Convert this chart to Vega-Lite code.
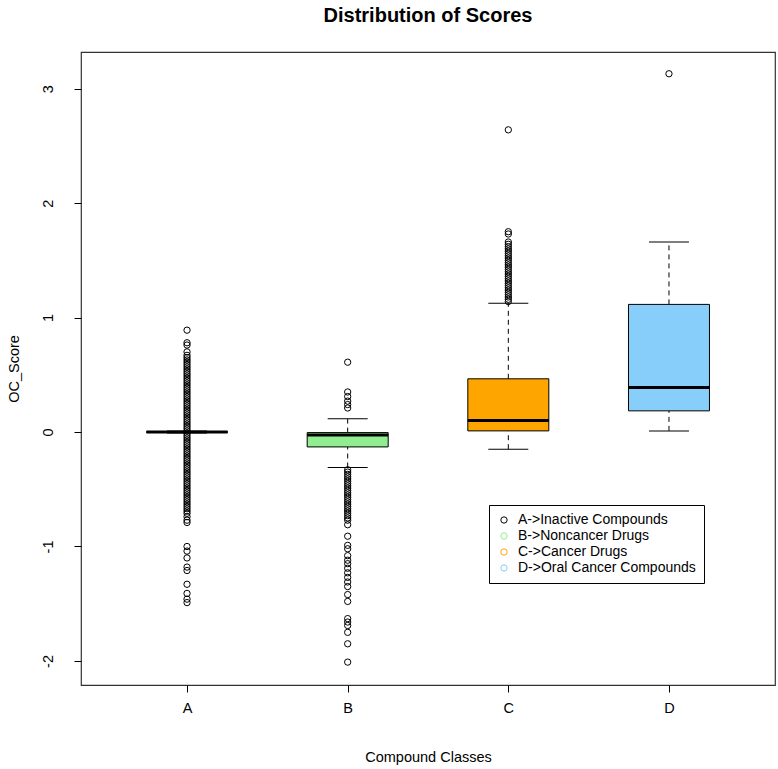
{
  "$schema": "https://vega.github.io/schema/vega-lite/v6.json",
  "width": 694,
  "height": 633,
  "autosize": "none",
  "padding": {"left": 81, "top": 52, "right": 3, "bottom": 84},
  "background": "white",
  "title": {"text": "Distribution of Scores", "fontSize": 20, "fontWeight": "bold", "font": "Liberation Sans", "anchor": "middle", "frame": "group", "offset": 26, "color": "black"},
  "config": {
    "view": {"stroke": "#333333", "strokeWidth": 1.2},
    "axis": {"grid": false, "domain": false, "tickColor": "black", "tickSize": 7, "labelFont": "Liberation Sans", "titleFont": "Liberation Sans", "labelFontSize": 14.5, "titleFontSize": 14.5, "labelColor": "black", "titleColor": "black", "titleFontWeight": "normal"}
  },
  "datasets": {
    "stats": [
      {"group": "A", "label": "A->Inactive Compounds", "lower": -0.008, "q1": -0.004, "median": 0, "q3": 0.004, "upper": 0.008},
      {"group": "B", "label": "B->Noncancer Drugs", "lower": -0.31, "q1": -0.13, "median": -0.025, "q3": -0.005, "upper": 0.115},
      {"group": "C", "label": "C->Cancer Drugs", "lower": -0.15, "q1": 0.01, "median": 0.1, "q3": 0.465, "upper": 1.125},
      {"group": "D", "label": "D->Oral Cancer Compounds", "lower": 0.01, "q1": 0.185, "median": 0.39, "q3": 1.115, "upper": 1.66}
    ],
    "outliers": [
      {"group": "A", "value": 0.89}, {"group": "A", "value": 0.78}, {"group": "A", "value": 0.76}, {"group": "A", "value": 0.70}, {"group": "A", "value": 0.67},
      {"group": "A", "value": 0.65}, {"group": "A", "value": 0.63}, {"group": "A", "value": 0.61}, {"group": "A", "value": 0.59}, {"group": "A", "value": 0.57},
      {"group": "A", "value": 0.55}, {"group": "A", "value": 0.53}, {"group": "A", "value": 0.51}, {"group": "A", "value": 0.49}, {"group": "A", "value": 0.47},
      {"group": "A", "value": 0.45}, {"group": "A", "value": 0.43}, {"group": "A", "value": 0.41}, {"group": "A", "value": 0.39}, {"group": "A", "value": 0.37},
      {"group": "A", "value": 0.35}, {"group": "A", "value": 0.33}, {"group": "A", "value": 0.31}, {"group": "A", "value": 0.29}, {"group": "A", "value": 0.27},
      {"group": "A", "value": 0.25}, {"group": "A", "value": 0.23}, {"group": "A", "value": 0.21}, {"group": "A", "value": 0.19}, {"group": "A", "value": 0.17},
      {"group": "A", "value": 0.15}, {"group": "A", "value": 0.13}, {"group": "A", "value": 0.11}, {"group": "A", "value": 0.09}, {"group": "A", "value": 0.07},
      {"group": "A", "value": 0.05}, {"group": "A", "value": 0.03}, {"group": "A", "value": 0.01}, {"group": "A", "value": -0.01}, {"group": "A", "value": -0.03},
      {"group": "A", "value": -0.05}, {"group": "A", "value": -0.07}, {"group": "A", "value": -0.09}, {"group": "A", "value": -0.11}, {"group": "A", "value": -0.13},
      {"group": "A", "value": -0.15}, {"group": "A", "value": -0.17}, {"group": "A", "value": -0.19}, {"group": "A", "value": -0.21}, {"group": "A", "value": -0.23},
      {"group": "A", "value": -0.25}, {"group": "A", "value": -0.27}, {"group": "A", "value": -0.29}, {"group": "A", "value": -0.31}, {"group": "A", "value": -0.33},
      {"group": "A", "value": -0.35}, {"group": "A", "value": -0.37}, {"group": "A", "value": -0.39}, {"group": "A", "value": -0.41}, {"group": "A", "value": -0.43},
      {"group": "A", "value": -0.45}, {"group": "A", "value": -0.47}, {"group": "A", "value": -0.49}, {"group": "A", "value": -0.51}, {"group": "A", "value": -0.53},
      {"group": "A", "value": -0.55}, {"group": "A", "value": -0.57}, {"group": "A", "value": -0.59}, {"group": "A", "value": -0.61}, {"group": "A", "value": -0.63},
      {"group": "A", "value": -0.65}, {"group": "A", "value": -0.67}, {"group": "A", "value": -0.69}, {"group": "A", "value": -0.71}, {"group": "A", "value": -0.74},
      {"group": "A", "value": -0.77}, {"group": "A", "value": -0.79}, {"group": "A", "value": -1.00}, {"group": "A", "value": -1.04}, {"group": "A", "value": -1.10},
      {"group": "A", "value": -1.18}, {"group": "A", "value": -1.21}, {"group": "A", "value": -1.33}, {"group": "A", "value": -1.41}, {"group": "A", "value": -1.46},
      {"group": "A", "value": -1.49},
      {"group": "B", "value": 0.61}, {"group": "B", "value": 0.35}, {"group": "B", "value": 0.31}, {"group": "B", "value": 0.27}, {"group": "B", "value": 0.24},
      {"group": "B", "value": 0.21}, {"group": "B", "value": -0.33}, {"group": "B", "value": -0.35}, {"group": "B", "value": -0.37}, {"group": "B", "value": -0.39},
      {"group": "B", "value": -0.41}, {"group": "B", "value": -0.43}, {"group": "B", "value": -0.45}, {"group": "B", "value": -0.47}, {"group": "B", "value": -0.49},
      {"group": "B", "value": -0.51}, {"group": "B", "value": -0.53}, {"group": "B", "value": -0.55}, {"group": "B", "value": -0.57}, {"group": "B", "value": -0.59},
      {"group": "B", "value": -0.61}, {"group": "B", "value": -0.63}, {"group": "B", "value": -0.65}, {"group": "B", "value": -0.67}, {"group": "B", "value": -0.69},
      {"group": "B", "value": -0.71}, {"group": "B", "value": -0.73}, {"group": "B", "value": -0.75}, {"group": "B", "value": -0.77}, {"group": "B", "value": -0.81},
      {"group": "B", "value": -0.91}, {"group": "B", "value": -0.99}, {"group": "B", "value": -1.02}, {"group": "B", "value": -1.08}, {"group": "B", "value": -1.12},
      {"group": "B", "value": -1.15}, {"group": "B", "value": -1.19}, {"group": "B", "value": -1.23}, {"group": "B", "value": -1.27}, {"group": "B", "value": -1.31},
      {"group": "B", "value": -1.35}, {"group": "B", "value": -1.42}, {"group": "B", "value": -1.48}, {"group": "B", "value": -1.63}, {"group": "B", "value": -1.66},
      {"group": "B", "value": -1.69}, {"group": "B", "value": -1.75}, {"group": "B", "value": -1.85}, {"group": "B", "value": -2.01},
      {"group": "C", "value": 2.64}, {"group": "C", "value": 1.75}, {"group": "C", "value": 1.73}, {"group": "C", "value": 1.66}, {"group": "C", "value": 1.64},
      {"group": "C", "value": 1.62}, {"group": "C", "value": 1.60}, {"group": "C", "value": 1.58}, {"group": "C", "value": 1.56}, {"group": "C", "value": 1.54},
      {"group": "C", "value": 1.52}, {"group": "C", "value": 1.50}, {"group": "C", "value": 1.48}, {"group": "C", "value": 1.46}, {"group": "C", "value": 1.44},
      {"group": "C", "value": 1.42}, {"group": "C", "value": 1.40}, {"group": "C", "value": 1.38}, {"group": "C", "value": 1.36}, {"group": "C", "value": 1.34},
      {"group": "C", "value": 1.32}, {"group": "C", "value": 1.30}, {"group": "C", "value": 1.28}, {"group": "C", "value": 1.26}, {"group": "C", "value": 1.24},
      {"group": "C", "value": 1.22}, {"group": "C", "value": 1.20}, {"group": "C", "value": 1.18}, {"group": "C", "value": 1.16}, {"group": "C", "value": 1.14},
      {"group": "D", "value": 3.13}
    ]
  },
  "encoding": {
    "x": {"field": "group", "type": "nominal", "scale": {"type": "point", "padding": 0.66, "domain": ["A", "B", "C", "D"]},
      "axis": {"title": "Compound Classes", "labelAngle": 0, "labelPadding": 9, "titleX": 347, "titleY": 72, "titleBaseline": "middle", "titleAlign": "center"}}
  },
  "layer": [
    {
      "data": {"name": "stats"},
      "mark": {"type": "rule", "color": "black", "strokeDash": [5, 4], "strokeWidth": 1},
      "encoding": {
        "y": {"field": "q3", "type": "quantitative", "scale": {"domain": [-2.21, 3.32], "nice": false, "zero": false},
          "axis": {"title": "OC_Score", "values": [-2, -1, 0, 1, 2, 3], "labelExpr": "'' + datum.value", "labelAngle": -90, "labelAlign": "center", "labelBaseline": "bottom", "labelPadding": 19, "titleX": -67, "titleY": 316.5, "titleAngle": -90, "titleBaseline": "middle", "titleAlign": "center"}},
        "y2": {"field": "upper"}
      }
    },
    {
      "data": {"name": "stats"},
      "mark": {"type": "rule", "color": "black", "strokeDash": [5, 4], "strokeWidth": 1},
      "encoding": {
        "y": {"field": "lower", "type": "quantitative"},
        "y2": {"field": "q1"}
      }
    },
    {
      "data": {"name": "stats"},
      "mark": {"type": "bar", "width": 81, "stroke": "black", "strokeWidth": 1},
      "encoding": {
        "y": {"field": "q1", "type": "quantitative"},
        "y2": {"field": "q3"},
        "fill": {"field": "group", "type": "nominal",
          "scale": {"domain": ["A", "B", "C", "D"], "range": ["#000000", "#90EE90", "#FFA500", "#87CEFA"]},
          "legend": null}
      }
    },
    {
      "data": {"name": "stats"},
      "mark": {"type": "tick", "orient": "horizontal", "size": 81, "thickness": 3, "color": "black", "opacity": 1},
      "encoding": {"y": {"field": "median", "type": "quantitative"}}
    },
    {
      "data": {"name": "stats"},
      "mark": {"type": "tick", "orient": "horizontal", "size": 40, "thickness": 1, "color": "black", "opacity": 1},
      "encoding": {"y": {"field": "upper", "type": "quantitative"}}
    },
    {
      "data": {"name": "stats"},
      "mark": {"type": "tick", "orient": "horizontal", "size": 40, "thickness": 1, "color": "black", "opacity": 1},
      "encoding": {"y": {"field": "lower", "type": "quantitative"}}
    },
    {
      "data": {"name": "outliers"},
      "mark": {"type": "point", "shape": "circle", "filled": false, "stroke": "black", "strokeWidth": 1, "size": 40, "opacity": 1},
      "encoding": {"y": {"field": "value", "type": "quantitative"}}
    },
    {
      "data": {"name": "stats"},
      "mark": {"type": "point", "shape": "circle", "filled": false, "strokeWidth": 1, "size": 0, "opacity": 1},
      "encoding": {
        "y": {"field": "median", "type": "quantitative"},
        "color": {"field": "label", "type": "nominal",
          "scale": {"domain": ["A->Inactive Compounds", "B->Noncancer Drugs", "C->Cancer Drugs", "D->Oral Cancer Compounds"], "range": ["#000000", "#90EE90", "#FFA500", "#87CEFA"]},
          "legend": {"orient": "none", "legendX": 408, "legendY": 453, "title": null, "symbolType": "circle", "symbolSize": 40, "symbolStrokeWidth": 1, "symbolOpacity": 1,
            "labelFont": "Liberation Sans", "labelFontSize": 14, "labelColor": "black", "labelLimit": 400, "padding": 8, "rowPadding": 2, "labelOffset": 7,
            "strokeColor": "black", "fillColor": "white"}
        }
      }
    },
    {
      "mark": {"type": "rule", "color": "#bd6f87", "strokeDash": [11, 5], "strokeWidth": 1.5},
      "encoding": {"y": {"datum": 0.664, "type": "quantitative"}, "x": {"value": 0}, "x2": {"value": 694}}
    }
  ]
}
